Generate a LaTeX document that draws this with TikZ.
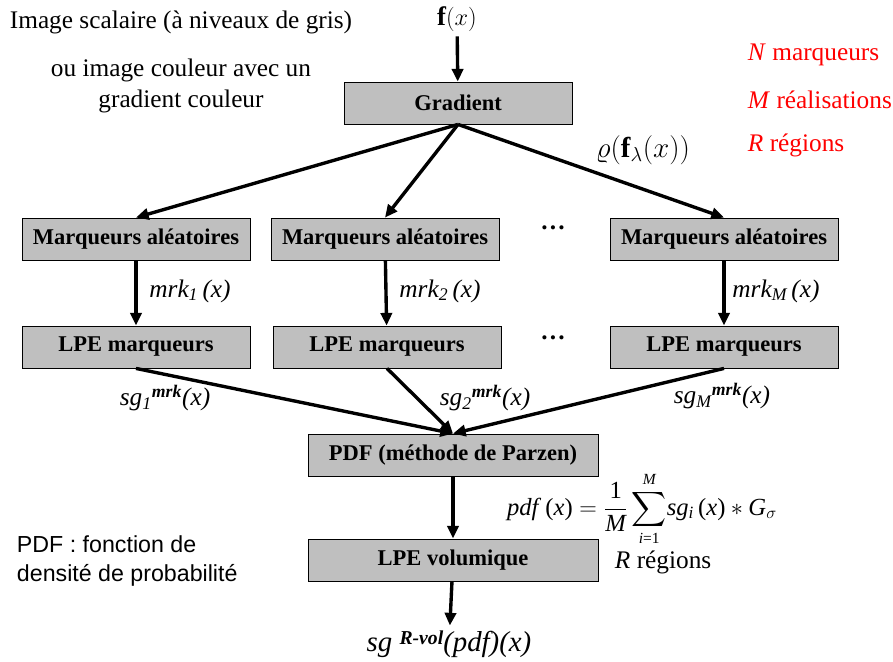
\documentclass[tikz,border=0pt]{standalone}
\usepackage{amsmath}
\usepackage{fontspec}
\setmainfont{Liberation Serif}
\newfontfamily\notefont{Liberation Sans}
\usetikzlibrary{arrows.meta, positioning}

\begin{document}
\begin{tikzpicture}[
      x=0.025cm, y=-0.025cm,
      every node/.style={font=\fontsize{18}{22}\selectfont},
      procbox/.style={rectangle, draw, fill=black!25, line width=0.6pt, minimum width=5.7cm, minimum height=1.05cm, font=\fontsize{16}{19}\selectfont\bfseries},
      widebox/.style={procbox, minimum width=7.25cm},
      flow/.style={line width=2.4pt, -{Triangle[length=9pt,width=8pt]}},
      redtxt/.style={text=red, anchor=west}
    ]
    \useasboundingbox (0,0) rectangle (893,662);

    % boxes
    \node[procbox] (grad) at (458,103) {Gradient};
    \node[procbox] (mk1) at (136,239) {Marqueurs al\'eatoires};
    \node[procbox] (mk2) at (385,239) {Marqueurs al\'eatoires};
    \node[procbox] (mkM) at (724,239) {Marqueurs al\'eatoires};
    \node[procbox] (lpe1) at (136,347) {LPE marqueurs};
    \node[procbox] (lpe2) at (387,347) {LPE marqueurs};
    \node[procbox] (lpeM) at (724,347) {LPE marqueurs};
    \node[widebox] (pdf) at (453,455) {PDF (m\'ethode de Parzen)};
    \node[widebox] (vol) at (453,560) {LPE volumique};

    % texts
    \node (fin) at (457,19) {\fontsize{19}{22}\selectfont$\mathbf{f}(x)$};
    \node (out) at (449,644) {\fontsize{20.5}{23}\selectfont\textit{sg} \raisebox{0.55ex}{\fontsize{14}{15}\selectfont\textit{\textbf{R-vol}}}\textit{(pdf)(x)}};
    \node (img) at (181,22) {Image scalaire (\`a niveaux de gris)};
    \node[align=center] (coul) at (181,86) {ou image couleur avec un\\gradient couleur};
    \node[anchor=west, align=left, font=\notefont\fontsize{16.5}{21}\selectfont] (note) at (12,561) {PDF : fonction de\\densit\'e de probabilit\'e};
    \node[redtxt] (nmk) at (743,55) {\textit{N} marqueurs};
    \node[redtxt] (mre) at (743,100) {\textit{M} r\'ealisations};
    \node[redtxt] (rre) at (743,145) {\textit{R} r\'egions};
    \node (rho) at (643,150) {\fontsize{20.5}{23}\selectfont$\varrho(\mathbf{f}_\lambda(x))$};
    \node (dots1) at (553,228) {\textbf{\dots}};
    \node (dots2) at (553,338) {\textbf{\dots}};
    \node (lab1) at (190,291) {\textit{mrk\textsubscript{1}\,(x)}};
    \node (lab2) at (440,291) {\textit{mrk\textsubscript{2}\,(x)}};
    \node (labM) at (776,291) {\textit{mrk\textsubscript{M}\,(x)}};
    \node (sg1) at (165,398) {\textit{sg\textsubscript{1}\textsuperscript{\textbf{mrk}}(x)}};
    \node (sg2) at (485,398) {\textit{sg\textsubscript{2}\textsuperscript{\textbf{mrk}}(x)}};
    \node (sgM) at (722,396) {\textit{sg\textsubscript{M}\textsuperscript{\textbf{mrk}}(x)}};
    \node[inner sep=0pt] (form) at (642,509) {\fontsize{17.5}{20}\selectfont\textit{pdf}\,(\textit{x})${}=\dfrac{\text{1}}{\text{\itshape M}}\displaystyle\sum\limits_{\mbox{\fontsize{11}{12}\selectfont\itshape i\upshape =1}}^{\mbox{\fontsize{11}{12}\selectfont\itshape M}}$\textit{sg}$_{\text{\itshape i}}$\,(\textit{x})${}*{}$\textit{G}$_\sigma$};
    \node[anchor=west] (rvol) at (610,562) {\textit{R} r\'egions};

    % arrows
    \draw[flow] (fin) -- (grad);
    \draw[flow] (grad.south) -- (mk1.north);
    \draw[flow] (grad.south) -- (mk2.north);
    \draw[flow] (grad.south) -- (mkM.north);
    \draw[flow] (mk1) -- (lpe1);
    \draw[flow] (mk2) -- (lpe2);
    \draw[flow] (mkM) -- (lpeM);
    \draw[flow] (lpe1.south) -- (pdf.north);
    \draw[flow] (lpe2.south) -- (pdf.north);
    \draw[flow] (lpeM.south) -- (pdf.north);
    \draw[flow] (pdf) -- (vol);
    \draw[flow] (vol) -- (out);
\end{tikzpicture}
\end{document}
